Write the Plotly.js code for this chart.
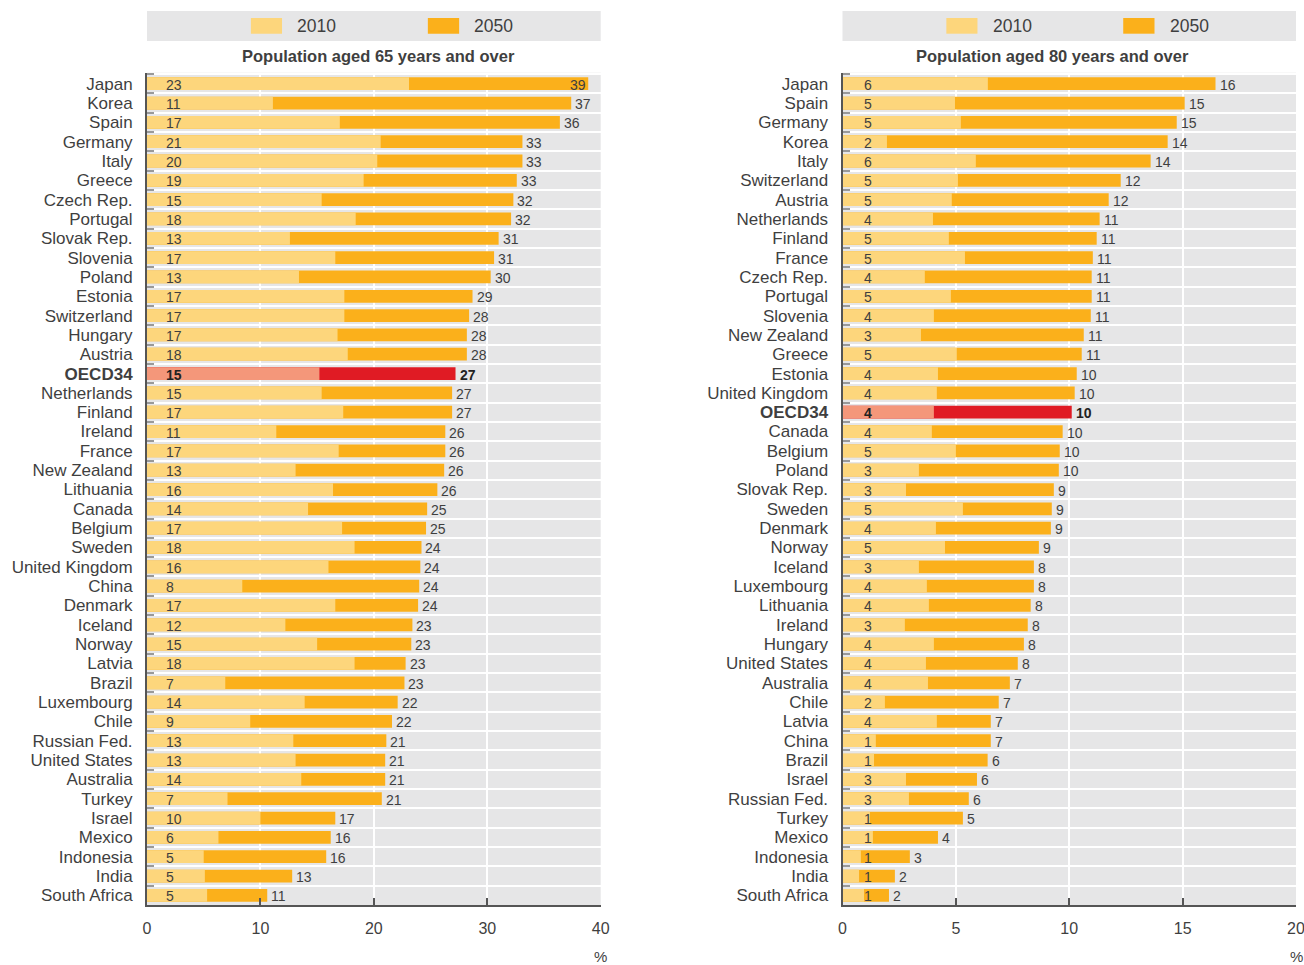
<!DOCTYPE html>
<html><head><meta charset="utf-8">
<script src="https://cdn.plot.ly/plotly-3.0.1.min.js"></script>
<style>html,body{margin:0;padding:0;background:#fff}</style>
</head><body><div id="chart" style="width:1304px;height:965px"></div>
<script>
// ---------- DATA ----------
const countries65 = ['Japan','Korea','Spain','Germany','Italy','Greece','Czech Rep.','Portugal','Slovak Rep.','Slovenia','Poland','Estonia','Switzerland','Hungary','Austria','OECD34','Netherlands','Finland','Ireland','France','New Zealand','Lithuania','Canada','Belgium','Sweden','United Kingdom','China','Denmark','Iceland','Norway','Latvia','Brazil','Luxembourg','Chile','Russian Fed.','United States','Australia','Turkey','Israel','Mexico','Indonesia','India','South Africa'];
const pop65_2010 = [23.1,11.1,17.0,20.6,20.3,19.1,15.4,18.4,12.6,16.6,13.4,17.4,17.4,16.8,17.7,15.2,15.4,17.3,11.4,16.9,13.1,16.4,14.2,17.2,18.3,16.0,8.4,16.6,12.2,15.0,18.3,6.9,13.9,9.1,12.9,13.1,13.6,7.1,10.0,6.3,5.0,5.1,5.3];
const pop65_2050 = [38.9,37.4,36.4,33.1,33.1,32.6,32.3,32.1,31.0,30.6,30.3,28.7,28.4,28.2,28.2,27.2,26.9,26.9,26.3,26.3,26.2,25.6,24.7,24.6,24.2,24.1,24.0,23.9,23.4,23.3,22.8,22.7,22.1,21.6,21.1,21.0,21.0,20.7,16.6,16.2,15.8,12.8,10.6];

const countries80 = ['Japan','Spain','Germany','Korea','Italy','Switzerland','Austria','Netherlands','Finland','France','Czech Rep.','Portugal','Slovenia','New Zealand','Greece','Estonia','United Kingdom','OECD34','Canada','Belgium','Poland','Slovak Rep.','Sweden','Denmark','Norway','Iceland','Luxembourg','Lithuania','Ireland','Hungary','United States','Australia','Chile','Latvia','China','Brazil','Israel','Russian Fed.','Turkey','Mexico','Indonesia','India','South Africa'];
const pop80_2010 = [6.41,4.96,5.22,1.96,5.88,5.09,4.82,3.99,4.69,5.40,3.63,4.78,4.03,3.46,5.04,4.21,4.16,4.03,3.94,5.0,3.37,2.80,5.31,4.12,4.52,3.37,3.72,3.81,2.75,4.03,3.68,3.77,1.87,4.16,1.47,1.39,2.80,2.93,1.21,1.34,0.81,0.73,0.95];
const pop80_2050 = [16.45,15.09,14.74,14.34,13.59,12.27,11.74,11.34,11.21,11.04,10.99,10.99,10.95,10.64,10.55,10.33,10.24,10.11,9.71,9.58,9.54,9.32,9.23,9.19,8.66,8.44,8.44,8.30,8.17,8.0,7.73,7.38,6.89,6.54,6.54,6.40,5.93,5.57,5.31,4.21,2.97,2.31,2.05];

const seriesNames = ['2010','2050'];
const panelTitles = ['Population aged 65 years and over','Population aged 80 years and over'];
const highlight = 'OECD34';
const axisTicks65 = [0,10,20,30,40];
const axisTicks80 = [0,5,10,15,20];
const unitLabel = '%';

// ---------- STYLE ----------
const FONT = '"Liberation Sans","Arial",sans-serif';
const TXT = '#3f3f3f';
const C2010 = '#FDD67C', C2050 = '#FBB01B', H2010 = '#F4977A', H2050 = '#E01B24';
const BG = '#E6E6E7';

const panels = [
  {cats: countries65, v1: pop65_2010, v2: pop65_2050, ticks: axisTicks65, xa:'x', ya:'y', dom:[147/1304, 600.7/1304], lshift:17, titleX:0.51},
  {cats: countries80, v1: pop80_2010, v2: pop80_2050, ticks: axisTicks80, xa:'x2', ya:'y2', dom:[842.5/1304, 1296/1304], lshift:19, titleX:0.464}
];

const traces = [], annotations = [], shapes = [];
const yTop = 1 - 72.7/965, yBot = 1 - 905/965;

panels.forEach((p, i) => {
  const c2050 = p.cats.map(c => c === highlight ? H2050 : C2050);
  const c2010 = p.cats.map(c => c === highlight ? H2010 : C2010);
  traces.push({type:'bar', orientation:'h', name:seriesNames[1], y:p.cats, x:p.v2, xaxis:p.xa, yaxis:p.ya,
    marker:{color:c2050}, width:0.66, showlegend:false, hoverinfo:'x+y'});
  traces.push({type:'bar', orientation:'h', name:seriesNames[0], y:p.cats, x:p.v1, xaxis:p.xa, yaxis:p.ya,
    marker:{color:c2010}, width:0.66, showlegend:false, hoverinfo:'x+y'});
  const xmax = p.ticks[p.ticks.length-1];
  p.cats.forEach((c, k) => {
    const bold = c === highlight;
    const f = {family:FONT, size:14, color: bold ? '#222' : TXT};
    const lab1 = String(Math.round(p.v1[k]));
    const lab2 = String(Math.round(p.v2[k]));
    annotations.push({xref:p.xa, yref:p.ya, x:0, y:c, text: bold ? '<b>'+lab1+'</b>' : lab1,
      xanchor:'left', yanchor:'middle', xshift:p.lshift, yshift:-1, showarrow:false, font:f});
    const inside = p.v2[k] > xmax*0.95;
    annotations.push({xref:p.xa, yref:p.ya, x:p.v2[k], y:c, text: bold ? '<b>'+lab2+'</b>' : lab2,
      xanchor: inside ? 'right' : 'left', yanchor:'middle', xshift: inside ? 0 : 2, yshift:-1, showarrow:false, font:f});
  });
  const dx = p.xa === 'x' ? 'x domain' : 'x2 domain';
  // legend band
  shapes.push({type:'rect', xref:dx, yref:'paper', x0:0, x1:1, y0:1-41/965, y1:1-11/965, fillcolor:BG, line:{width:0}, layer:'below'});
  shapes.push({type:'rect', xref:dx, yref:'paper', x0:0.229, x1:0.2976, y0:1-33.7/965, y1:1-18/965, fillcolor:C2010, line:{width:0}});
  shapes.push({type:'rect', xref:dx, yref:'paper', x0:0.619, x1:0.688, y0:1-33.7/965, y1:1-18/965, fillcolor:C2050, line:{width:0}});
  annotations.push({xref:dx, yref:'paper', x:0.327, y:1-26/965, xanchor:'left', yanchor:'middle', text:seriesNames[0], showarrow:false, font:{family:FONT, size:17.5, color:TXT}});
  annotations.push({xref:dx, yref:'paper', x:0.717, y:1-26/965, xanchor:'left', yanchor:'middle', text:seriesNames[1], showarrow:false, font:{family:FONT, size:17.5, color:TXT}});
  annotations.push({xref:dx, yref:'paper', x:p.titleX, y:1-56/965, xanchor:'center', yanchor:'middle', text:'<b>'+panelTitles[i]+'</b>', showarrow:false, font:{family:FONT, size:16.5, color:TXT}});
  annotations.push({xref:dx, yref:'paper', x:1, y:1-956/965, xanchor:'center', yanchor:'middle', text:unitLabel, showarrow:false, font:{family:FONT, size:15, color:TXT}});
});

function xaxisCfg(p){
  return {domain:p.dom, range:[0, p.ticks[p.ticks.length-1]], tickvals:p.ticks, ticks:'inside', ticklen:7, tickwidth:1.5, tickcolor:'#555',
    showgrid:true, gridcolor:'#fff', gridwidth:2, zeroline:false, showline:true, linecolor:'#555', linewidth:2,
    tickfont:{family:FONT, size:16, color:TXT}, ticklabelstandoff:8, ticklabeloverflow:'allow', anchor: p.ya, fixedrange:true, automargin:false};
}
function yaxisCfg(p){
  return {domain:[yBot, yTop], type:'category', categoryorder:'array', categoryarray:p.cats, autorange:'reversed',
    tickvals:p.cats, ticktext:p.cats.map(c => c === highlight ? '<b>'+c+'</b>' : c),
    tickson:'boundaries', ticks:'inside', ticklen:7, tickwidth:1.5, tickcolor:'#999',
    showgrid:true, gridcolor:'#fff', gridwidth:2, showline:true, linecolor:'#555', linewidth:2,
    tickfont:{family:FONT, size:17, color:TXT}, ticklabelstandoff:9, anchor:p.xa, fixedrange:true, automargin:false};
}

const layout = {
  width:1304, height:965, margin:{l:0, r:0, t:0, b:0},
  paper_bgcolor:'#fff', plot_bgcolor:BG, barmode:'overlay', showlegend:false,
  xaxis:xaxisCfg(panels[0]), yaxis:yaxisCfg(panels[0]),
  xaxis2:xaxisCfg(panels[1]), yaxis2:yaxisCfg(panels[1]),
  annotations, shapes
};
Plotly.newPlot('chart', traces, layout, {displayModeBar:false});
</script></body></html>
